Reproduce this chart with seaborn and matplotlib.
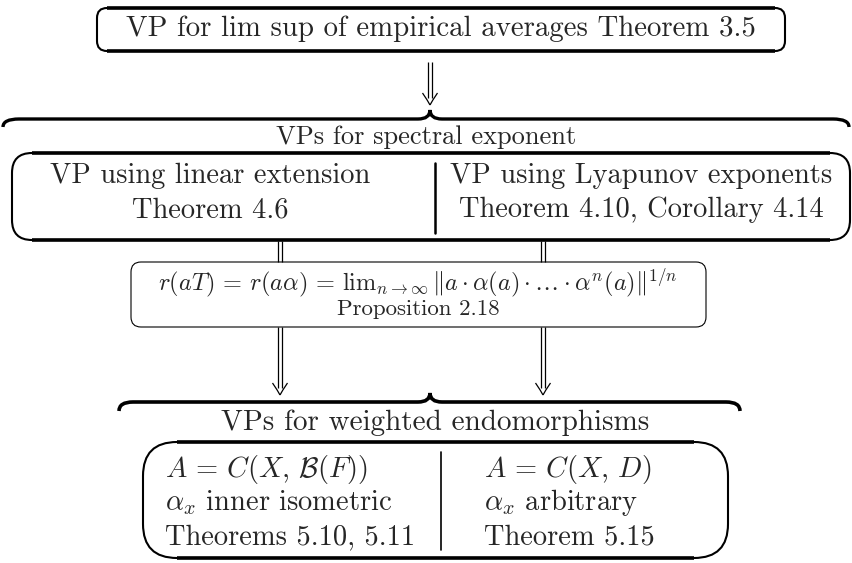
import numpy as np
import matplotlib
import matplotlib.pyplot as plt
import seaborn as sns
from matplotlib.patches import FancyBboxPatch, PathPatch
from matplotlib.path import Path

# texts of the diagram
top_text = "VP for lim sup of empirical averages Theorem 3.5"
spectral_title = "VPs for spectral exponent"
spectral_left = ["VP using linear extension", "Theorem 4.6"]
spectral_right = ["VP using Lyapunov exponents", "Theorem 4.10, Corollary 4.14"]
prop_lines = [r"$r(aT)\,=\,r(a\alpha)\,=\,\mathrm{lim}_{n\to\infty}\,\Vert a\cdot\alpha(a)\cdot\ldots\cdot\alpha^n(a)\Vert^{1/n}$",
              "Proposition 2.18"]
weighted_title = "VPs for weighted endomorphisms"
weighted_left = [r"$A\,=\,C(X,\,\mathcal{B}(F))$", r"$\alpha_x$ inner isometric", "Theorems 5.10, 5.11"]
weighted_right = [r"$A\,=\,C(X,\,D)$", r"$\alpha_x$ arbitrary", "Theorem 5.15"]

sns.set_theme(style="white")
plt.rcParams['font.family'] = ['cmr10', 'DejaVu Serif']
plt.rcParams['mathtext.fontset'] = 'cm'
plt.rcParams['axes.unicode_minus'] = False

W, H = 852, 563
fig = plt.figure(figsize=(W / 100, H / 100), dpi=100)
ax = fig.add_axes([0, 0, 1, 1])
ax.set_xlim(0, W)
ax.set_ylim(H, 0)
ax.axis('off')


def rbox(x0, y0, x1, y1, r, lw_side=1.5, lw_top=2.6):
    ax.add_patch(FancyBboxPatch((x0, y0), x1 - x0, y1 - y0,
                                boxstyle=f"round,pad=0,rounding_size={r}",
                                fc='none', ec='black', lw=lw_side))
    if lw_top:
        for y in (y0, y1):
            ax.plot([x0 + r, x1 - r], [y, y], color='black', lw=lw_top,
                    solid_capstyle='butt')


def brace(x0, x1, y, xm, w_end=16, h_end=8, w_tip=12, h_tip=9, lw=2.4):
    verts = [(x0, y + h_end), (x0, y), (x0 + w_end, y),
             (xm - w_tip, y), (xm, y), (xm, y - h_tip),
             (xm, y), (xm + w_tip, y),
             (x1 - w_end, y), (x1, y), (x1, y + h_end)]
    codes = [Path.MOVETO, Path.CURVE3, Path.CURVE3,
             Path.LINETO, Path.CURVE3, Path.CURVE3,
             Path.CURVE3, Path.CURVE3,
             Path.LINETO, Path.CURVE3, Path.CURVE3]
    ax.add_patch(PathPatch(Path(verts, codes), fc='none', ec='black', lw=lw))


def dbar(x, y0, y1, gap=2.3, lw=0.9):
    for dx in (-gap, gap):
        ax.plot([x + dx, x + dx], [y0, y1], color='black', lw=lw,
                solid_capstyle='butt')


def darrow(x, y0, y1, gap=2.3, lw=0.9):
    dbar(x, y0, y1 - 7, gap, lw)
    for s in (-1, 1):
        verts = [(x + s * 7.5, y1 - 12), (x + s * 2, y1 - 4), (x, y1)]
        ax.add_patch(PathPatch(Path(verts, [Path.MOVETO, Path.CURVE3, Path.CURVE3]),
                               fc='none', ec='black', lw=lw))


# top box
rbox(97, 8, 785, 51, 10)
ax.text(441, 29, top_text, ha='center', va='center', fontsize=20.8)
darrow(430, 62, 105)

# spectral exponent block
brace(3, 849, 119, 430)
ax.text(426, 137, spectral_title, ha='center', va='center', fontsize=19)
rbox(12, 153, 850, 240, 20)
ax.plot([435, 435], [163, 233], color='black', lw=1.8)
for i, (l, r) in enumerate(zip(spectral_left, spectral_right)):
    yy = 176 + 34 * i
    ax.text(210, yy, l, ha='center', va='center', fontsize=20.5)
    ax.text(641, yy, r, ha='center', va='center', fontsize=20.5)

# proposition box
xl, xr = 280, 543
dbar(xl, 241, 262)
dbar(xr, 241, 262)
rbox(131, 262, 706, 327, 10, lw_side=0.8, lw_top=0)
ax.text(418, 283, prop_lines[0], ha='center', va='center', fontsize=17.5)
ax.text(418, 309, prop_lines[1], ha='center', va='center', fontsize=16.5)
darrow(xl, 327, 395)
darrow(xr, 327, 395)

# weighted endomorphisms block
brace(119, 740, 402, 430, w_end=14, h_end=9, lw=2.6)
ax.text(435, 423, weighted_title, ha='center', va='center', fontsize=21)
rbox(143, 442, 728, 558, 34, lw_side=1.5, lw_top=2.6)
ax.plot([441, 441], [452, 550], color='black', lw=1.2)
for i, (l, r) in enumerate(zip(weighted_left, weighted_right)):
    yy = 469 + 34 * i
    ax.text(165, yy, l, ha='left', va='center', fontsize=20.5)
    ax.text(484, yy, r, ha='left', va='center', fontsize=20.5)

fig.savefig("out.png", dpi=100)
